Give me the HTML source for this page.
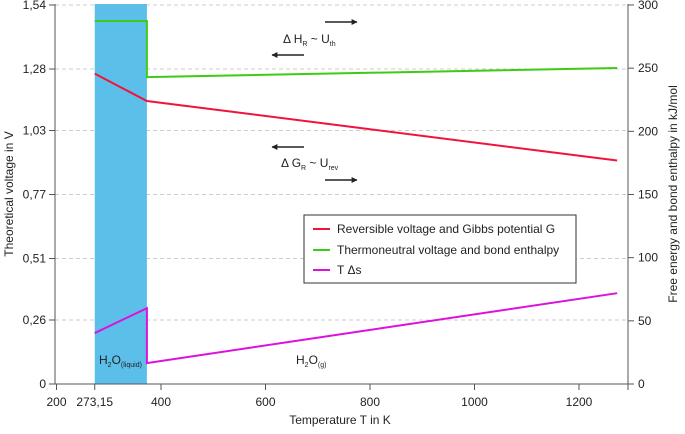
<!DOCTYPE html>
<html><head><meta charset="utf-8"><style>
body{margin:0;background:#fff}
svg{font-family:"Liberation Sans",sans-serif;font-size:12px;fill:#222}
</style></head><body>
<svg width="685" height="429" viewBox="0 0 685 429" id="c">
<defs><marker id="ah" viewBox="0 0 10 10" refX="9" refY="5" markerWidth="4" markerHeight="4" orient="auto"><path d="M0,0L10,5L0,10z" fill="#222"/></marker></defs>
<g id="grid"></g>
<g id="marks"></g>
<g id="axes"></g>
<g font-size="12">
<line x1="325" y1="22" x2="357" y2="22" stroke="#222" stroke-width="1.5" marker-end="url(#ah)"/>
<line x1="304" y1="55" x2="272" y2="55" stroke="#222" stroke-width="1.5" marker-end="url(#ah)"/>
<text x="283" y="43">Δ H<tspan font-size="7" dy="3">R</tspan><tspan dy="-3"> ~ U</tspan><tspan font-size="7" dy="3">th</tspan></text>
<line x1="304" y1="147" x2="272" y2="147" stroke="#222" stroke-width="1.5" marker-end="url(#ah)"/>
<text x="281" y="167">Δ G<tspan font-size="7" dy="3">R</tspan><tspan dy="-3"> ~ U</tspan><tspan font-size="7" dy="3">rev</tspan></text>
<line x1="325" y1="180" x2="357" y2="180" stroke="#222" stroke-width="1.5" marker-end="url(#ah)"/>
<text x="99" y="364">H<tspan font-size="7" dy="3">2</tspan><tspan dy="-3">O</tspan><tspan font-size="7" dy="3">(liquid)</tspan></text>
<text x="296" y="364">H<tspan font-size="7" dy="3">2</tspan><tspan dy="-3">O</tspan><tspan font-size="7" dy="3">(g)</tspan></text>
</g>
<g>
<rect x="304" y="215" width="272" height="68" fill="#fff" stroke="#333" stroke-width="1"/>
<line x1="313" y1="229" x2="330" y2="229" stroke="#f0143c" stroke-width="2"/>
<text x="337" y="233">Reversible voltage and Gibbs potential G</text>
<line x1="313" y1="250" x2="330" y2="250" stroke="#3ccc14" stroke-width="2"/>
<text x="337" y="254">Thermoneutral voltage and bond enthalpy</text>
<line x1="313" y1="270" x2="330" y2="270" stroke="#dd10dd" stroke-width="2"/>
<text x="337" y="274">T Δs</text>
</g>
<text x="340" y="424" text-anchor="middle">Temperature T in K</text>
<text transform="translate(13,194) rotate(-90)" text-anchor="middle">Theoretical voltage in V</text>
<text transform="translate(677,194) rotate(-90)" text-anchor="middle">Free energy and bond enthalpy in kJ/mol</text>
</svg>
<script>
const xTicks=[200,273.15,400,600,800,1000,1200];
const xTickLabels=["200","273,15","400","600","800","1000","1200"];
const yTicks=[0,0.26,0.51,0.77,1.03,1.28,1.54];
const yTickLabels=["0","0,26","0,51","0,77","1,03","1,28","1,54"];
const y2Ticks=[0,50,100,150,200,250,300];
const liquidRange=[273.15,373];
const greenT=[273.15,373,373,1273];
const greenV=[1.475,1.475,1.247,1.284];
const redT=[273.15,373,1273];
const redV=[1.261,1.15,0.908];
const magT=[273.15,373,373,1273];
const magV=[0.207,0.308,0.085,0.369];
const X=t=>56.5+(t-200)*(104.5/200);
const Y=v=>384-v*(379/1.54);
const Y2=e=>384-e*(379/300);
const NS="http://www.w3.org/2000/svg";
function mk(tag,attrs,parent,txt){const e=document.createElementNS(NS,tag);for(const k in attrs)e.setAttribute(k,attrs[k]);if(txt!==undefined)e.textContent=txt;document.getElementById(parent).appendChild(e);return e;}
const L=55,R=628;
yTicks.forEach((v,i)=>{
 if(i>0){const g=mk('line',{x1:L,x2:R,y1:Y(v),y2:Y(v),stroke:'#ccc','stroke-dasharray':'4,3'},'grid');
 
 }
});
const band=mk('rect',{x:X(liquidRange[0]),y:4,width:X(liquidRange[1])-X(liquidRange[0]),height:Y(0)-4,fill:'#5bbfea'},'marks');


function line(ts,vs,color,name){
 const p=mk('polyline',{points:ts.map((t,i)=>X(t)+','+Y(vs[i])).join(' '),fill:'none',stroke:color,'stroke-width':2},'marks');
 
 
}
line(greenT,greenV,'#3ccc14','thermoneutral-line');
line(redT,redV,'#f0143c','reversible-line');
line(magT,magV,'#dd10dd','tds-line');
mk('line',{x1:L,x2:L,y1:4,y2:Y(0),stroke:'#555'},'axes');
mk('line',{x1:R,x2:R,y1:4,y2:Y(0),stroke:'#555'},'axes');
mk('line',{x1:L,x2:R+2,y1:Y(0),y2:Y(0),stroke:'#555'},'axes');
mk('line',{x1:R,x2:R,y1:Y(0),y2:Y(0)+6,stroke:'#555'},'axes');
yTicks.forEach((v,i)=>{
 mk('line',{x1:L-6,x2:L,y1:Y(v),y2:Y(v),stroke:'#555'},'axes');
 const t=mk('text',{x:L-9,y:Y(v)+4,'text-anchor':'end'},'axes',yTickLabels[i]);
 
 
});
y2Ticks.forEach(e=>{
 mk('line',{x1:R,x2:R+6,y1:Y2(e),y2:Y2(e),stroke:'#555'},'axes');
 const t=mk('text',{x:R+10,y:Y2(e)+4},'axes',String(e));
 
 
});
xTicks.forEach((v,i)=>{
 mk('line',{x1:X(v),x2:X(v),y1:Y(0),y2:Y(0)+6,stroke:'#555'},'axes');
 const t=mk('text',{x:X(v),y:Y(0)+22,'text-anchor':'middle'},'axes',xTickLabels[i]);
 
 
});
</script>
</body></html>
